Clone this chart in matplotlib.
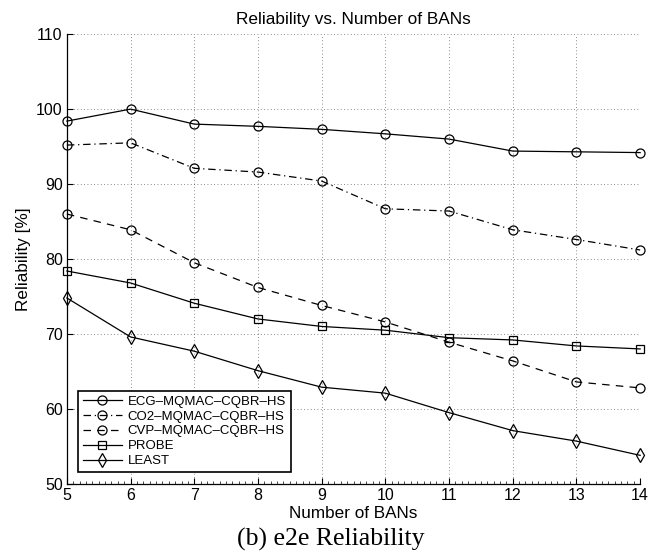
import matplotlib.pyplot as plt
import numpy as np

plt.rcParams['font.family'] = ['Liberation Sans', 'DejaVu Sans']

## dane
bans = [5, 6, 7, 8, 9, 10, 11, 12, 13, 14]
ecg = [98.4, 100.0, 98.0, 97.7, 97.3, 96.7, 96.0, 94.4, 94.3, 94.2]
co2 = [95.2, 95.5, 92.1, 91.6, 90.4, 86.7, 86.4, 83.9, 82.6, 81.2]
cvp = [86.0, 83.9, 79.5, 76.2, 73.8, 71.6, 68.9, 66.4, 63.6, 62.8]
probe = [78.4, 76.8, 74.1, 72.0, 71.0, 70.5, 69.5, 69.2, 68.4, 68.0]
least = [74.8, 69.6, 67.7, 65.1, 62.9, 62.1, 59.5, 57.1, 55.7, 53.8]
labels = ['ECG\u2013MQMAC\u2013CQBR\u2013HS', 'CO2\u2013MQMAC\u2013CQBR\u2013HS',
          'CVP\u2013MQMAC\u2013CQBR\u2013HS', 'PROBE', 'LEAST']

fig = plt.figure(figsize=(6.62, 5.60), dpi=100)
ax = fig.add_axes([0.101, 0.136, 0.866, 0.803])

# styl linii jak w matlabie
kw = dict(color='black', lw=0.9, markersize=6.5, markerfacecolor='none',
          markeredgewidth=0.9, clip_on=False)
ax.plot(bans, ecg, '-o', label=labels[0], **kw)
ax.plot(bans, co2, 'o', linestyle=(0, (6, 3, 1, 3)), label=labels[1], **kw)
ax.plot(bans, cvp, 'o', linestyle=(0, (6, 5)), label=labels[2], **kw)
ax.plot(bans, probe, '-s', label=labels[3], **dict(kw, markersize=5.5))
ax.plot(bans, least, '-d', label=labels[4], **dict(kw, markersize=7.5))

ax.set_xlim(5, 14)
ax.set_ylim(50, 110)
ax.set_xticks(bans)
ax.set_yticks(np.arange(50, 111, 10))
ax.set_xticks(np.arange(5, 14.01, 0.1), minor=True)
ax.tick_params(direction='in', length=4, width=0.8, labelsize=11.5, pad=3)
ax.tick_params(axis='x', which='minor', direction='in', length=2, width=0.5)
ax.grid(True, linestyle=(0, (1, 3)), color='black', lw=0.6, alpha=0.6)

ax.spines['top'].set_visible(False)
ax.spines['right'].set_visible(False)
for s in ['left', 'bottom']:
    ax.spines[s].set_linewidth(0.9)

ax.set_title('Reliability vs. Number of BANs', fontsize=12.4, pad=7)
ax.set_xlabel('Number of BANs', fontsize=12.3, labelpad=2)
ax.set_ylabel('Reliability [%]', fontsize=12.3, labelpad=4)

# legenda
leg = ax.legend(loc='lower left', fontsize=9.5, handlelength=3.0,
                labelspacing=0.2, borderpad=0.35, handletextpad=0.4,
                fancybox=False, edgecolor='black', framealpha=1,
                bbox_to_anchor=(0.008, 0.012))
leg.get_frame().set_linewidth(1.2)

fig.text(0.5, 1 - 539 / 560, '(b) e2e Reliability', family='Liberation Serif',
         fontsize=18.5, ha='center', va='center')

fig.savefig('out.png', dpi=100)
